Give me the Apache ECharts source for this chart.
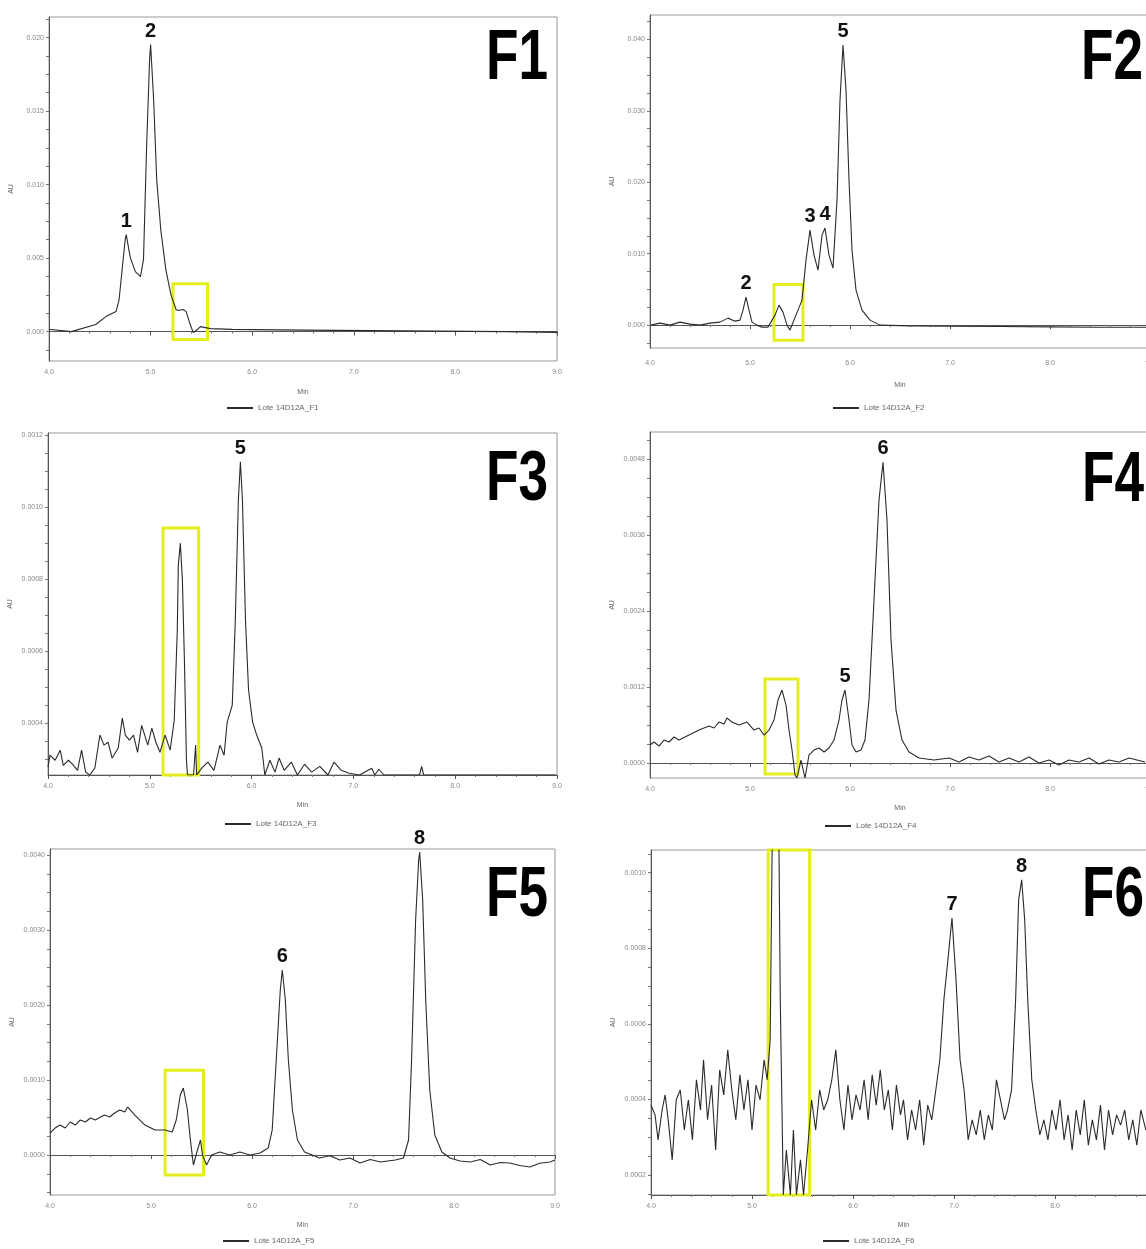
<!DOCTYPE html>
<html>
<head>
<meta charset="utf-8">
<title>Lote 14D12A – cromatogramas F1–F6</title>
<script src="https://cdn.jsdelivr.net/npm/echarts@6/dist/echarts.min.js"></script>
<style>
  html, body { margin: 0; padding: 0; background: #fff; }
  #chart { width: 1146px; height: 1249px; }
</style>
</head>
<body>
<div id="chart"></div>
<script>
// ---- Fraction F1 ----
const f1Time = [4.00,4.02,4.22,4.46,4.56,4.66,4.69,4.72,4.75,4.76,4.80,4.85,4.90,4.93,4.96,4.99,5.00,5.03,5.06,5.10,5.15,5.20,5.25,5.27,5.32,5.35,5.39,5.42,5.46,5.49,5.59,5.80,6.50,7.50,8.50,9.00];
const f1Abs  = [0.00014,0.00014,0.0,0.00048,0.00102,0.00136,0.00218,0.00422,0.00626,0.00660,0.00503,0.00408,0.00374,0.00490,0.01238,0.01850,0.01952,0.01578,0.01034,0.00694,0.00422,0.00252,0.00150,0.00143,0.00150,0.00136,0.00048,-0.00007,0.00014,0.00034,0.00020,0.00015,0.00010,0.00005,0.0,-0.00005];
const f1PeakName = ['1','2'];
const f1PeakTime = [4.76, 5.00];
const f1Box = [5.22, 5.56, -0.00054, 0.00326];
const f1Ticks = [0, 0.005, 0.010, 0.015, 0.020];

// ---- Fraction F2 ----
const f2Time = [4.01,4.10,4.20,4.30,4.40,4.50,4.60,4.70,4.78,4.85,4.90,4.93,4.96,4.99,5.02,5.07,5.12,5.18,5.25,5.29,5.33,5.37,5.40,5.44,5.48,5.52,5.56,5.60,5.64,5.68,5.72,5.75,5.79,5.83,5.87,5.90,5.93,5.96,5.99,6.02,6.06,6.12,6.20,6.30,6.60,7.00,7.50,8.00,8.50,9.00];
const f2Abs  = [0,0.00028,0,0.00042,0.00014,0,0.00028,0.00042,0.00098,0.00056,0.0007,0.0021,0.00392,0.0021,0.00042,0,-0.00028,-0.00028,0.0014,0.0028,0.00182,0,-0.0007,0.0007,0.0021,0.0035,0.0091,0.0133,0.0098,0.0077,0.0126,0.01358,0.0098,0.00798,0.0175,0.0315,0.0392,0.0329,0.0203,0.0105,0.0049,0.0021,0.0007,0,-0.0001,-0.00015,-0.0002,-0.00025,-0.0003,-0.0003];
const f2PeakName = ['2','3','4','5'];
const f2PeakTime = [4.96, 5.60, 5.75, 5.93];
const f2Box = [5.24, 5.53, -0.0021, 0.0057];
const f2Ticks = [0, 0.010, 0.020, 0.030, 0.040];

// ---- Fraction F3 ----
const f3Time = [4.00,4.02,4.07,4.12,4.15,4.20,4.24,4.29,4.33,4.37,4.41,4.46,4.51,4.55,4.59,4.63,4.69,4.73,4.76,4.80,4.84,4.88,4.92,4.98,5.02,5.06,5.10,5.15,5.20,5.24,5.27,5.28,5.30,5.32,5.34,5.36,5.37,5.43,5.45,5.46,5.51,5.57,5.63,5.69,5.73,5.76,5.81,5.84,5.87,5.89,5.91,5.94,5.97,6.01,6.05,6.10,6.13,6.18,6.23,6.27,6.32,6.39,6.45,6.52,6.59,6.67,6.75,6.81,6.88,6.96,7.06,7.18,7.21,7.25,7.30,7.65,7.67,7.69,8.99];
const f3Abs  = [0.000278,0.000311,0.000297,0.000325,0.000283,0.000297,0.000286,0.000269,0.000325,0.000264,0.000256,0.000275,0.000367,0.000339,0.000347,0.000303,0.000331,0.000414,0.000367,0.000353,0.000367,0.000319,0.000394,0.000339,0.000386,0.000347,0.000319,0.000367,0.000325,0.000408,0.000659,0.000839,0.000900,0.000798,0.000575,0.000297,0.000256,0.000256,0.000339,0.000256,0.000275,0.000292,0.000269,0.000339,0.000311,0.000403,0.000450,0.000686,0.001020,0.001126,0.001020,0.000686,0.000492,0.000403,0.000367,0.000331,0.000256,0.000297,0.000264,0.000303,0.000269,0.000292,0.000256,0.000286,0.000264,0.000280,0.000256,0.000292,0.000269,0.000261,0.000256,0.000275,0.000256,0.000272,0.000256,0.000256,0.000280,0.000256,0.000256];
const f3PeakName = ['5'];
const f3PeakTime = [5.89];
const f3Box = [5.13, 5.48, 0.000256, 0.000942];
const f3Ticks = [0.0004, 0.0006, 0.0008, 0.0010, 0.0012];

// ---- Fraction F4 ----
const f4Time = [4.00,4.04,4.09,4.14,4.19,4.24,4.29,4.39,4.49,4.59,4.64,4.69,4.74,4.77,4.82,4.89,4.97,5.04,5.09,5.14,5.19,5.24,5.28,5.32,5.36,5.39,5.42,5.45,5.47,5.51,5.55,5.59,5.64,5.69,5.74,5.79,5.84,5.89,5.92,5.95,5.99,6.02,6.06,6.11,6.15,6.19,6.24,6.29,6.33,6.37,6.41,6.46,6.52,6.59,6.69,6.84,6.99,7.09,7.19,7.29,7.39,7.49,7.59,7.69,7.79,7.89,7.99,8.09,8.19,8.29,8.39,8.49,8.59,8.69,8.79,8.95];
const f4Abs  = [0.000284,0.000332,0.000268,0.000363,0.000332,0.000411,0.000363,0.000442,0.000521,0.000584,0.000553,0.000647,0.000616,0.000711,0.000647,0.000600,0.000647,0.000521,0.000553,0.000442,0.000521,0.000679,0.000995,0.001153,0.000916,0.000521,0.000205,-0.000189,-0.000237,0.000047,-0.000237,0.000126,0.000205,0.000237,0.000174,0.000237,0.000363,0.000679,0.000995,0.001153,0.000679,0.000284,0.000174,0.000205,0.000363,0.000995,0.002574,0.004153,0.004753,0.003837,0.001942,0.000837,0.000363,0.000174,0.000079,0.000047,0.000079,0.000016,0.000095,0.000047,0.000111,0.000016,0.000079,0.000016,0.000095,0.0,0.000047,-0.000032,0.000047,0.000016,0.000079,-0.000016,0.000047,0.000016,0.000079,0.000016];
const f4PeakName = ['5','6'];
const f4PeakTime = [5.95, 6.33];
const f4Box = [5.15, 5.48, -0.000174, 0.001326];
const f4Ticks = [0, 0.0012, 0.0024, 0.0036, 0.0048];

// ---- Fraction F5 ----
const f5Time = [4.00,4.05,4.10,4.15,4.20,4.25,4.30,4.35,4.40,4.45,4.50,4.54,4.59,4.64,4.69,4.74,4.77,4.84,4.94,5.04,5.14,5.21,5.25,5.29,5.32,5.36,5.39,5.42,5.46,5.49,5.51,5.55,5.60,5.68,5.78,5.88,5.98,6.08,6.16,6.20,6.24,6.28,6.30,6.33,6.36,6.40,6.45,6.52,6.67,6.77,6.87,6.97,7.07,7.17,7.27,7.42,7.50,7.55,7.58,7.62,7.65,7.66,7.69,7.72,7.76,7.81,7.88,7.96,8.06,8.16,8.26,8.36,8.46,8.55,8.65,8.75,8.85,8.95,9.00];
const f5Abs  = [0.000293,0.00036,0.0004,0.00036,0.00044,0.0004,0.000467,0.00044,0.000493,0.000467,0.000507,0.000533,0.000507,0.00056,0.0006,0.000573,0.00064,0.000533,0.0004,0.000333,0.000333,0.000307,0.000467,0.0008,0.000893,0.000607,0.0002,-0.000133,0.000067,0.0002,0.0,-0.000133,0.0,0.00004,0.0,0.00004,0.0,0.000027,0.000093,0.000333,0.001267,0.0022,0.002467,0.002067,0.001267,0.0006,0.0002,0.00004,-0.00004,-0.00001,-0.000067,-0.00004,-0.000107,-0.00006,-0.000093,-0.000067,-0.00004,0.0002,0.001267,0.003133,0.003933,0.00404,0.0034,0.002067,0.000867,0.000267,0.00004,-0.00004,-0.00008,-0.000093,-0.00006,-0.000133,-0.0001,-0.000107,-0.00014,-0.00016,-0.00011,-0.000093,-0.000067];
const f5PeakName = ['6','8'];
const f5PeakTime = [6.30, 7.66];
const f5Box = [5.14, 5.52, -0.000267, 0.00113];
const f5Ticks = [0, 0.001, 0.002, 0.003, 0.004];

// ---- Fraction F6 ----
const f6Time = [4.00,4.04,4.07,4.11,4.14,4.17,4.21,4.25,4.29,4.33,4.37,4.41,4.45,4.49,4.52,4.56,4.60,4.64,4.68,4.72,4.76,4.80,4.84,4.88,4.92,4.96,5.00,5.04,5.08,5.12,5.15,5.18,5.22,5.25,5.28,5.31,5.34,5.38,5.41,5.44,5.48,5.51,5.55,5.59,5.63,5.67,5.71,5.75,5.79,5.83,5.87,5.91,5.95,5.99,6.03,6.07,6.11,6.15,6.19,6.23,6.27,6.31,6.35,6.39,6.43,6.47,6.50,6.54,6.58,6.62,6.66,6.70,6.74,6.78,6.82,6.86,6.90,6.94,6.98,7.02,7.06,7.10,7.14,7.18,7.22,7.26,7.30,7.34,7.38,7.42,7.46,7.50,7.53,7.57,7.61,7.64,7.67,7.70,7.73,7.77,7.81,7.85,7.89,7.93,7.97,8.01,8.05,8.09,8.13,8.17,8.21,8.25,8.29,8.33,8.37,8.41,8.45,8.49,8.53,8.57,8.61,8.65,8.69,8.73,8.77,8.81,8.85,8.90];
const f6Abs  = [0.000385,0.000359,0.000293,0.000372,0.000412,0.000346,0.00024,0.000399,0.000425,0.000319,0.000399,0.000293,0.000452,0.000372,0.000505,0.000346,0.000438,0.000266,0.000478,0.000412,0.000531,0.000425,0.000346,0.000465,0.000372,0.000452,0.000319,0.000438,0.000399,0.000505,0.000452,0.000558,0.0016,0.0016,0.000664,0.000147,0.000266,0.000147,0.000319,0.000147,0.00024,0.000147,0.000266,0.000399,0.000319,0.000425,0.000372,0.000399,0.000452,0.000531,0.000399,0.000319,0.000438,0.000346,0.000412,0.000372,0.000452,0.000346,0.000465,0.000385,0.000478,0.000372,0.000425,0.000319,0.000438,0.000359,0.000399,0.000293,0.000372,0.000319,0.000399,0.000279,0.000385,0.000346,0.000425,0.000505,0.000664,0.00077,0.00088,0.000717,0.000505,0.000425,0.000293,0.000346,0.000306,0.000372,0.000293,0.000359,0.000319,0.000452,0.000399,0.000346,0.000372,0.000425,0.000664,0.000928,0.000981,0.000875,0.000664,0.000452,0.000372,0.000306,0.000346,0.000293,0.000372,0.000319,0.000399,0.000293,0.000359,0.000266,0.000372,0.000306,0.000399,0.000279,0.000346,0.000293,0.000385,0.000266,0.000372,0.000306,0.000359,0.000332,0.000372,0.000293,0.000346,0.000279,0.000372,0.000319];
const f6PeakName = ['7','8'];
const f6PeakTime = [6.98, 7.67];
const f6Box = [5.16, 5.57, 0.000147, 0.00106];
const f6Ticks = [0.0002, 0.0004, 0.0006, 0.0008, 0.0010];

// Shared time axis (minutes)
const timeTicks = [4, 5, 6, 7, 8, 9];

const panels = [
  { tag: 'F1', series: 'Lote 14D12A_F1', time: f1Time, abs: f1Abs, peakName: f1PeakName, peakTime: f1PeakTime, box: f1Box, ticks: f1Ticks, dec: 3,
    yMin: -0.002, yMax: 0.0214, grid: { left: 49, top: 17, width: 508, height: 344 }, labelMargin: 8, nameGap: 28, legend: { left: 222, top: 399 }, tagPos: [486, 25] },
  { tag: 'F2', series: 'Lote 14D12A_F2', time: f2Time, abs: f2Abs, peakName: f2PeakName, peakTime: f2PeakTime, box: f2Box, ticks: f2Ticks, dec: 3,
    yMin: -0.0032, yMax: 0.0434, grid: { left: 650, top: 15, width: 500, height: 333 }, labelMargin: 12, nameGap: 34, legend: { left: 828, top: 399 }, tagPos: [1081, 25] },
  { tag: 'F3', series: 'Lote 14D12A_F3', time: f3Time, abs: f3Abs, peakName: f3PeakName, peakTime: f3PeakTime, box: f3Box, ticks: f3Ticks, dec: 4,
    yMin: 0.000256, yMax: 0.001206, grid: { left: 48, top: 433, width: 509, height: 342 }, labelMargin: 8, nameGap: 27, legend: { left: 220, top: 815 }, tagPos: [486, 446] },
  { tag: 'F4', series: 'Lote 14D12A_F4', time: f4Time, abs: f4Abs, peakName: f4PeakName, peakTime: f4PeakTime, box: f4Box, ticks: f4Ticks, dec: 4,
    yMin: -0.000237, yMax: 0.00523, grid: { left: 650, top: 432, width: 500, height: 346 }, labelMargin: 8, nameGap: 27, legend: { left: 820, top: 817 }, tagPos: [1082, 447] },
  { tag: 'F5', series: 'Lote 14D12A_F5', time: f5Time, abs: f5Abs, peakName: f5PeakName, peakTime: f5PeakTime, box: f5Box, ticks: f5Ticks, dec: 4,
    yMin: -0.000533, yMax: 0.00408, grid: { left: 50, top: 849, width: 505, height: 346 }, labelMargin: 8, nameGap: 27, legend: { left: 218, top: 1232 }, tagPos: [486, 862] },
  { tag: 'F6', series: 'Lote 14D12A_F6', time: f6Time, abs: f6Abs, peakName: f6PeakName, peakTime: f6PeakTime, box: f6Box, ticks: f6Ticks, dec: 4,
    yMin: 0.000147, yMax: 0.00106, grid: { left: 651, top: 850, width: 505, height: 345 }, labelMargin: 8, nameGap: 27, legend: { left: 818, top: 1232 }, tagPos: [1082, 862] }
];

const axisGray = '#555';
const labelGray = '#888';
const boxYellow = '#e4ee1c';

function minorTicks(ticks, min, max) {
  const step = (ticks[1] - ticks[0]) / 4;
  const out = [];
  const start = Math.ceil(min / step - 1e-9);
  const end = Math.floor(max / step + 1e-9);
  for (let i = start; i <= end; i++) out.push(+(i * step).toFixed(8));
  return out;
}

const option = {
  animation: false,
  backgroundColor: '#fff',
  grid: [], xAxis: [], yAxis: [], series: [], legend: [], graphic: []
};

panels.forEach((p, i) => {
  option.grid.push(Object.assign({
    show: true, borderColor: '#999', borderWidth: 1, backgroundColor: '#fff',
    containLabel: false, outerBoundsMode: 'none'
  }, p.grid));

  option.xAxis.push({
    type: 'value', gridIndex: i, min: 4, max: 9, interval: 1,
    name: 'Min', nameLocation: 'middle', nameGap: p.nameGap,
    nameTextStyle: { fontSize: 7, color: '#666', fontFamily: 'Liberation Sans, Arial, sans-serif' },
    axisLine: { show: true, lineStyle: { color: axisGray, width: 1 } },
    axisTick: { show: true, length: 4, lineStyle: { color: axisGray } },
    minorTick: { show: true, splitNumber: 5, length: 2, lineStyle: { color: '#777' } },
    axisLabel: { show: true, fontSize: 7, color: labelGray, margin: p.labelMargin,
      customValues: timeTicks, formatter: v => v.toFixed(1) },
    splitLine: { show: false }
  });

  option.yAxis.push({
    type: 'value', gridIndex: i, min: p.yMin, max: p.yMax,
    name: 'AU', nameLocation: 'middle', nameGap: 34, nameRotate: 90,
    nameTextStyle: { fontSize: 7, color: '#666', fontFamily: 'Liberation Sans, Arial, sans-serif' },
    axisLine: { show: true, lineStyle: { color: axisGray, width: 1 } },
    axisTick: { show: true, length: 3, customValues: minorTicks(p.ticks, p.yMin, p.yMax), lineStyle: { color: '#777' } },
    axisLabel: { show: true, fontSize: 7, color: labelGray, margin: 5,
      customValues: p.ticks, formatter: v => v.toFixed(p.dec) },
    splitLine: { show: false }
  });

  const data = p.time.map((t, k) => [t, p.abs[k]]);
  const peaks = p.peakName.map((n, k) => {
    const idx = p.time.indexOf(p.peakTime[k]);
    return { name: n, coord: [p.time[idx], p.abs[idx]] };
  });

  option.series.push({
    name: p.series, type: 'line', xAxisIndex: i, yAxisIndex: i,
    data: data, showSymbol: false, symbol: 'none', smooth: false,
    lineStyle: { color: '#2b2b2b', width: 1.1 }, itemStyle: { color: '#2b2b2b' },
    clip: true,
    markPoint: {
      symbol: 'circle', symbolSize: 1, itemStyle: { color: 'rgba(0,0,0,0)' },
      label: { show: true, position: 'top', distance: 3, formatter: '{b}',
        fontSize: 20, fontWeight: 'bold', color: '#111', fontFamily: 'Liberation Sans, Arial, sans-serif' },
      data: peaks
    },
    markArea: {
      silent: true,
      itemStyle: { color: 'rgba(0,0,0,0)', borderColor: boxYellow, borderWidth: 3 },
      data: [[{ xAxis: p.box[0], yAxis: p.box[3] }, { xAxis: p.box[1], yAxis: p.box[2] }]]
    }
  });

  option.legend.push({
    data: [p.series], left: p.legend.left, top: p.legend.top,
    icon: 'rect', itemWidth: 26, itemHeight: 2, itemGap: 10,
    textStyle: { fontSize: 8, color: '#666', fontFamily: 'Liberation Sans, Arial, sans-serif' },
    selectedMode: false
  });

  option.graphic.push({
    type: 'text', x: p.tagPos[0], y: p.tagPos[1], scaleX: 0.76, z: 10,
    style: { text: p.tag, font: 'bold 70px "Liberation Sans", Arial, sans-serif', fill: '#000', textVerticalAlign: 'top' }
  });
});

const chart = echarts.init(document.getElementById('chart'), null, { renderer: 'canvas' });
chart.setOption(option);
</script>
</body>
</html>
